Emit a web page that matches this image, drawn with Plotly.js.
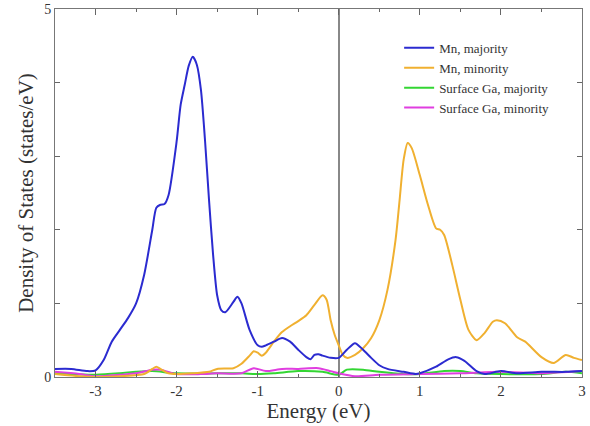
<!DOCTYPE html>
<html><head><meta charset="utf-8">
<script src="https://cdn.plot.ly/plotly-3.0.1.min.js"></script>
<style>html,body{margin:0;padding:0;background:#fff}#c{width:590px;height:426px}</style>
</head><body><div id="c"></div>
<script>
const mnMajE = [-3.5,-3.3,-3.1,-3.0,-2.9,-2.8,-2.7,-2.6,-2.5,-2.4,-2.3,-2.25,-2.2,-2.15,-2.1,-2.0,-1.95,-1.9,-1.85,-1.8,-1.75,-1.7,-1.65,-1.6,-1.55,-1.5,-1.45,-1.4,-1.3,-1.25,-1.2,-1.1,-1.0,-0.95,-0.9,-0.8,-0.7,-0.6,-0.5,-0.4,-0.35,-0.3,-0.25,-0.2,-0.1,0.0,0.1,0.2,0.3,0.4,0.5,0.6,0.8,0.95,1.0,1.2,1.35,1.45,1.55,1.7,1.8,2.0,2.2,2.5,2.8,3.0];
const mnMaj = [0.11,0.11,0.08,0.09,0.23,0.48,0.64,0.8,1.0,1.39,2.0,2.3,2.34,2.35,2.47,3.2,3.7,3.97,4.23,4.35,4.24,3.9,3.22,2.4,1.66,1.11,0.91,0.88,1.02,1.09,1.0,0.64,0.43,0.41,0.43,0.48,0.53,0.48,0.37,0.27,0.24,0.30,0.31,0.29,0.26,0.26,0.37,0.46,0.37,0.26,0.16,0.11,0.07,0.04,0.05,0.14,0.24,0.27,0.22,0.08,0.04,0.08,0.05,0.07,0.07,0.08];

const mnMinE = [-3.5,-3.2,-3.0,-2.7,-2.4,-2.3,-2.25,-2.2,-2.1,-2.0,-1.8,-1.6,-1.5,-1.3,-1.2,-1.1,-1.05,-1.0,-0.95,-0.9,-0.8,-0.7,-0.6,-0.5,-0.4,-0.3,-0.2,-0.15,-0.1,-0.05,0.0,0.05,0.1,0.2,0.3,0.4,0.5,0.6,0.7,0.75,0.8,0.85,0.9,1.0,1.1,1.2,1.25,1.3,1.4,1.5,1.6,1.7,1.8,1.9,1.95,2.05,2.2,2.3,2.5,2.65,2.8,2.9,3.0];
const mnMin = [0.04,0.01,0.0,0.01,0.04,0.11,0.14,0.11,0.05,0.04,0.05,0.07,0.11,0.12,0.18,0.29,0.35,0.33,0.29,0.33,0.48,0.61,0.69,0.76,0.84,0.98,1.11,1.05,0.77,0.57,0.43,0.30,0.26,0.30,0.39,0.53,0.77,1.18,1.86,2.4,2.95,3.18,3.11,2.74,2.34,2.02,2.0,1.93,1.52,1.05,0.64,0.5,0.6,0.75,0.77,0.73,0.54,0.48,0.27,0.19,0.30,0.26,0.23];

const gaMajE = [-3.5,-3.0,-2.7,-2.5,-2.3,-2.0,-1.5,-1.2,-1.0,-0.8,-0.5,-0.2,0.0,0.1,0.3,0.5,0.8,1.0,1.3,1.5,1.7,2.0,2.5,2.8,3.0];
const gaMaj = [0.05,0.03,0.05,0.07,0.08,0.05,0.05,0.05,0.04,0.05,0.08,0.07,0.03,0.10,0.10,0.07,0.04,0.04,0.08,0.08,0.05,0.04,0.04,0.07,0.05];

const gaMinE = [-3.5,-3.2,-3.0,-2.7,-2.5,-2.3,-2.2,-2.0,-1.7,-1.5,-1.2,-1.05,-0.9,-0.7,-0.5,-0.25,-0.1,0.0,0.2,0.5,1.0,1.5,2.0,2.5,3.0];
const gaMin = [0.07,0.04,0.01,0.03,0.05,0.10,0.10,0.04,0.04,0.05,0.05,0.12,0.08,0.11,0.11,0.12,0.08,0.05,0.01,0.03,0.04,0.05,0.07,0.05,0.08];

const names = ['Mn, majority','Mn, minority','Surface Ga, majority','Surface Ga, minority'];
const colors = ['#2b2bd0','#f0b030','#33d633','#e03ee0'];
const xTickVals = [-3,-2,-1,0,1,2,3];
const xTickText = ['-3','-2','-1','0','1','2','3'];
const yTickVals = [0,1,2,3,4,5];
const yTickText = ['0','','','','','5'];

const serif = 'Liberation Serif, Times New Roman, serif';
const sets = [[mnMajE,mnMaj],[mnMinE,mnMin],[gaMajE,gaMaj],[gaMinE,gaMin]];
const traces = sets.map((s,i)=>({x:s[0],y:s[1],name:names[i],type:'scatter',mode:'lines',
  legendrank:i+1,
  line:{color:colors[i],width:2,shape:'spline',smoothing:0.7}}));
const order = [2,3,1,0];
const data = order.map(i=>traces[i]);

const layout = {
  width:590,height:426,
  margin:{l:55,r:8,t:9,b:49},
  paper_bgcolor:'#fff',plot_bgcolor:'#fff',
  showlegend:true,
  legend:{x:0.653,y:0.935,xanchor:'left',yanchor:'top',bgcolor:'rgba(0,0,0,0)',
    font:{family:serif,size:13,color:'#333'},traceorder:'normal',itemwidth:30},
  xaxis:{range:[-3.5,3],tickvals:xTickVals,ticktext:xTickText,ticks:'inside',ticklen:6,tickcolor:'#666',
    showline:true,linecolor:'#777',linewidth:1,mirror:'ticks',showgrid:false,
    zeroline:true,zerolinecolor:'#888',zerolinewidth:1.5,
    minor:{dtick:0.5,tick0:0,ticks:'inside',ticklen:3,tickcolor:'#666'},
    tickfont:{family:serif,size:15,color:'#333'},
    title:{text:'Energy (eV)',font:{family:serif,size:21,color:'#333'},standoff:2}},
  yaxis:{range:[0,5],tickvals:yTickVals,ticktext:yTickText,ticks:'inside',ticklen:5,tickcolor:'#666',
    showline:true,linecolor:'#777',linewidth:1,mirror:'ticks',showgrid:false,zeroline:false,
    tickfont:{family:serif,size:14,color:'#333'},
    title:{text:'Density of States (states/eV)',font:{family:serif,size:21,color:'#333'},standoff:4}}
};
Plotly.newPlot('c',data,layout,{staticPlot:true});
</script></body></html>
